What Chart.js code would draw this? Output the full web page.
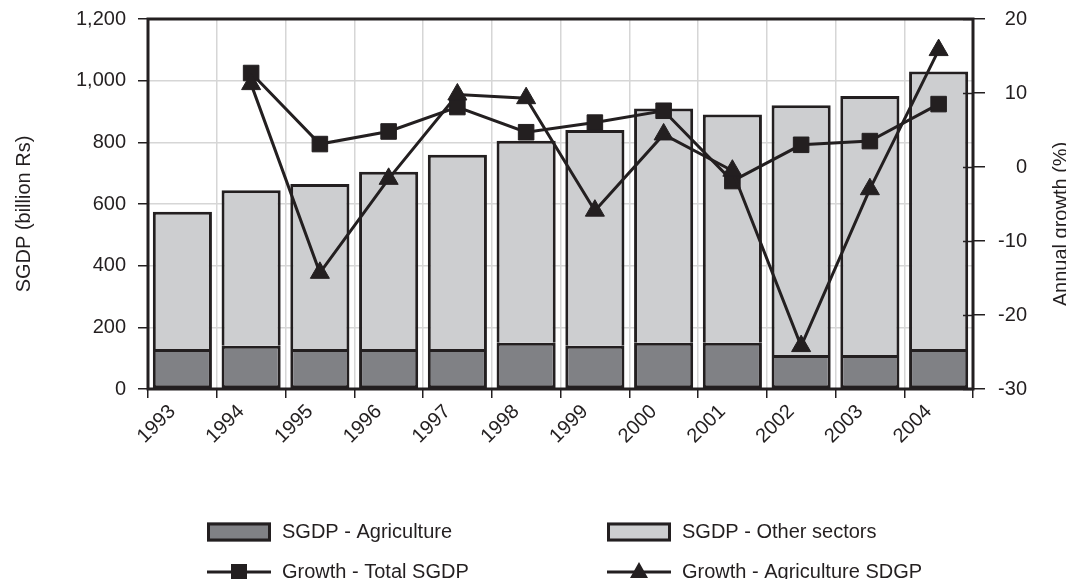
<!DOCTYPE html>
<html>
<head>
<meta charset="utf-8">
<script src="https://cdn.jsdelivr.net/npm/chart.js@4"></script>
<style>
  html, body { margin: 0; padding: 0; background: #fff; }
  #wrap { width: 1066px; height: 579px; position: relative; }
</style>
</head>
<body>
<div id="wrap"><canvas id="sgdpChart"></canvas></div>
<script>
const years = ['1993', '1994', '1995', '1996', '1997', '1998', '1999', '2000', '2001', '2002', '2003', '2004'];
const agriculture = [130, 140, 130, 130, 130, 150, 140, 150, 150, 110, 110, 130];
const otherSectors = [445, 505, 535, 575, 630, 655, 700, 760, 740, 810, 840, 900];
const growthTotal = [null, 12.7, 3.1, 4.8, 8.1, 4.7, 6.0, 7.6, -1.9, 3.0, 3.5, 8.5];
const growthAgri = [null, 11.2, -14.3, -1.6, 9.8, 9.3, -5.9, 4.4, -0.5, -24.2, -3.0, 15.8];
const leftTicks = [0, 200, 400, 600, 800, 1000, 1200];
const rightTicks = [-30, -20, -10, 0, 10, 20];

const ink = '#231f20';
const fontFamily = '"Liberation Sans", Arial, sans-serif';

// frame, inner tick marks of right axis, axis titles, legend
const decorPlugin = {
    id: 'decor',
    afterDraw(chart) {
        const { ctx, chartArea: a, scales } = chart;
        ctx.save();

        ctx.strokeStyle = ink;
        ctx.lineWidth = 3;
        ctx.strokeRect(a.left, a.top, a.right - a.left, a.bottom - a.top);

        ctx.lineWidth = 1.5;
        scales.y1.ticks.forEach(t => {
            const y = Math.round(scales.y1.getPixelForValue(t.value)) + 0.5;
            ctx.beginPath();
            ctx.moveTo(a.right - 10, y);
            ctx.lineTo(a.right, y);
            ctx.stroke();
        });

        ctx.fillStyle = ink;
        ctx.font = '20px ' + fontFamily;
        ctx.textAlign = 'center';
        ctx.textBaseline = 'middle';
        const midY = (a.top + a.bottom) / 2;

        ctx.save();
        ctx.translate(24, midY + 10);
        ctx.rotate(-Math.PI / 2);
        ctx.fillText('SGDP (billion Rs)', 0, 0);
        ctx.restore();

        ctx.save();
        ctx.translate(1061, midY + 20);
        ctx.rotate(-Math.PI / 2);
        ctx.fillText('Annual growth (%)', 0, 0);
        ctx.restore();

        // legend, two columns
        const cols = [207, 607];
        const rows = [532, 572];
        const boxW = 64, boxH = 19;
        chart.data.datasets.forEach((ds, i) => {
            const x = cols[i % 2];
            const y = rows[Math.floor(i / 2)];
            if (ds.type === 'bar') {
                ctx.fillStyle = ds.backgroundColor;
                ctx.fillRect(x, y - boxH / 2, boxW, boxH);
                ctx.strokeStyle = ink;
                ctx.lineWidth = 3;
                ctx.strokeRect(x + 1.5, y - boxH / 2 + 1.5, boxW - 3, boxH - 3);
            } else {
                ctx.strokeStyle = ink;
                ctx.lineWidth = 3;
                ctx.beginPath();
                ctx.moveTo(x, y);
                ctx.lineTo(x + boxW, y);
                ctx.stroke();
                ctx.fillStyle = ink;
                const cx = x + boxW / 2;
                if (ds.pointStyle === 'rect') {
                    ctx.fillRect(cx - 8, y - 8, 16, 16);
                } else {
                    ctx.beginPath();
                    ctx.moveTo(cx, y - 10);
                    ctx.lineTo(cx + 9, y + 6);
                    ctx.lineTo(cx - 9, y + 6);
                    ctx.closePath();
                    ctx.fill();
                }
            }
            ctx.fillStyle = ink;
            ctx.font = '20px ' + fontFamily;
            ctx.textAlign = 'left';
            ctx.textBaseline = 'middle';
            ctx.fillText(ds.label, x + boxW + 11, y);
        });

        ctx.restore();
    }
};

const tickFont = { family: fontFamily, size: 20 };

// keep the plot frame where the reference has it
function noEdgePadding(scale) {
    scale.paddingTop = 0;
    scale.paddingBottom = 0;
}

new Chart(document.getElementById('sgdpChart'), {
    data: {
        labels: years,
        datasets: [
            {
                type: 'bar',
                label: 'SGDP - Agriculture',
                data: agriculture,
                yAxisID: 'y',
                backgroundColor: '#808185',
                borderColor: ink,
                borderWidth: 3,
                borderSkipped: false,
                barPercentage: 0.86,
                categoryPercentage: 1,
                order: 2
            },
            {
                type: 'bar',
                label: 'SGDP - Other sectors',
                data: otherSectors,
                yAxisID: 'y',
                backgroundColor: '#cdced0',
                borderColor: ink,
                borderWidth: 3,
                borderSkipped: 'bottom',
                barPercentage: 0.86,
                categoryPercentage: 1,
                order: 2
            },
            {
                type: 'line',
                label: 'Growth - Total SGDP',
                data: growthTotal,
                yAxisID: 'y1',
                borderColor: ink,
                borderWidth: 3,
                pointStyle: 'rect',
                pointRadius: 11,
                pointBackgroundColor: ink,
                pointBorderColor: ink,
                pointBorderWidth: 1,
                order: 1
            },
            {
                type: 'line',
                label: 'Growth - Agriculture SDGP',
                data: growthAgri,
                yAxisID: 'y1',
                borderColor: ink,
                borderWidth: 3,
                pointStyle: 'triangle',
                pointRadius: 11,
                pointBackgroundColor: ink,
                pointBorderColor: ink,
                pointBorderWidth: 1,
                order: 0
            }
        ]
    },
    options: {
        responsive: true,
        maintainAspectRatio: false,
        animation: false,
        layout: { padding: { top: 19, left: 0, right: 39, bottom: 0 } },
        plugins: {
            legend: { display: false },
            tooltip: { enabled: false }
        },
        scales: {
            x: {
                stacked: true,
                offset: true,
                grid: { offset: true, color: '#d6d6d6', tickColor: ink, tickLength: 9, lineWidth: 1.5 },
                border: { display: false },
                ticks: {
                    font: tickFont,
                    color: ink,
                    minRotation: 45,
                    maxRotation: 45,
                    labelOffset: -10,
                    padding: 2
                },
                afterFit(scale) {
                    scale.height = 190;
                    scale.paddingLeft = 0;
                    scale.paddingRight = 0;
                }
            },
            y: {
                stacked: true,
                position: 'left',
                min: 0,
                max: 1200,
                afterBuildTicks(scale) { scale.ticks = leftTicks.map(v => ({ value: v })); },
                grid: { color: '#d6d6d6', tickColor: ink, tickLength: 10, lineWidth: 1.5 },
                border: { display: false },
                ticks: {
                    font: tickFont,
                    color: ink,
                    padding: 12,
                    callback: v => v.toLocaleString('en-US')
                },
                afterFit(scale) {
                    scale.width = 148;
                    noEdgePadding(scale);
                }
            },
            y1: {
                position: 'right',
                min: -30,
                max: 20,
                afterBuildTicks(scale) { scale.ticks = rightTicks.map(v => ({ value: v })); },
                grid: { drawOnChartArea: false, tickColor: ink, tickLength: 12, lineWidth: 1.5 },
                border: { display: false },
                ticks: {
                    font: tickFont,
                    color: ink,
                    padding: 13,
                    crossAlign: 'far'
                },
                afterFit(scale) {
                    scale.width = 54;
                    noEdgePadding(scale);
                }
            }
        }
    },
    plugins: [decorPlugin]
});
</script>
</body>
</html>
